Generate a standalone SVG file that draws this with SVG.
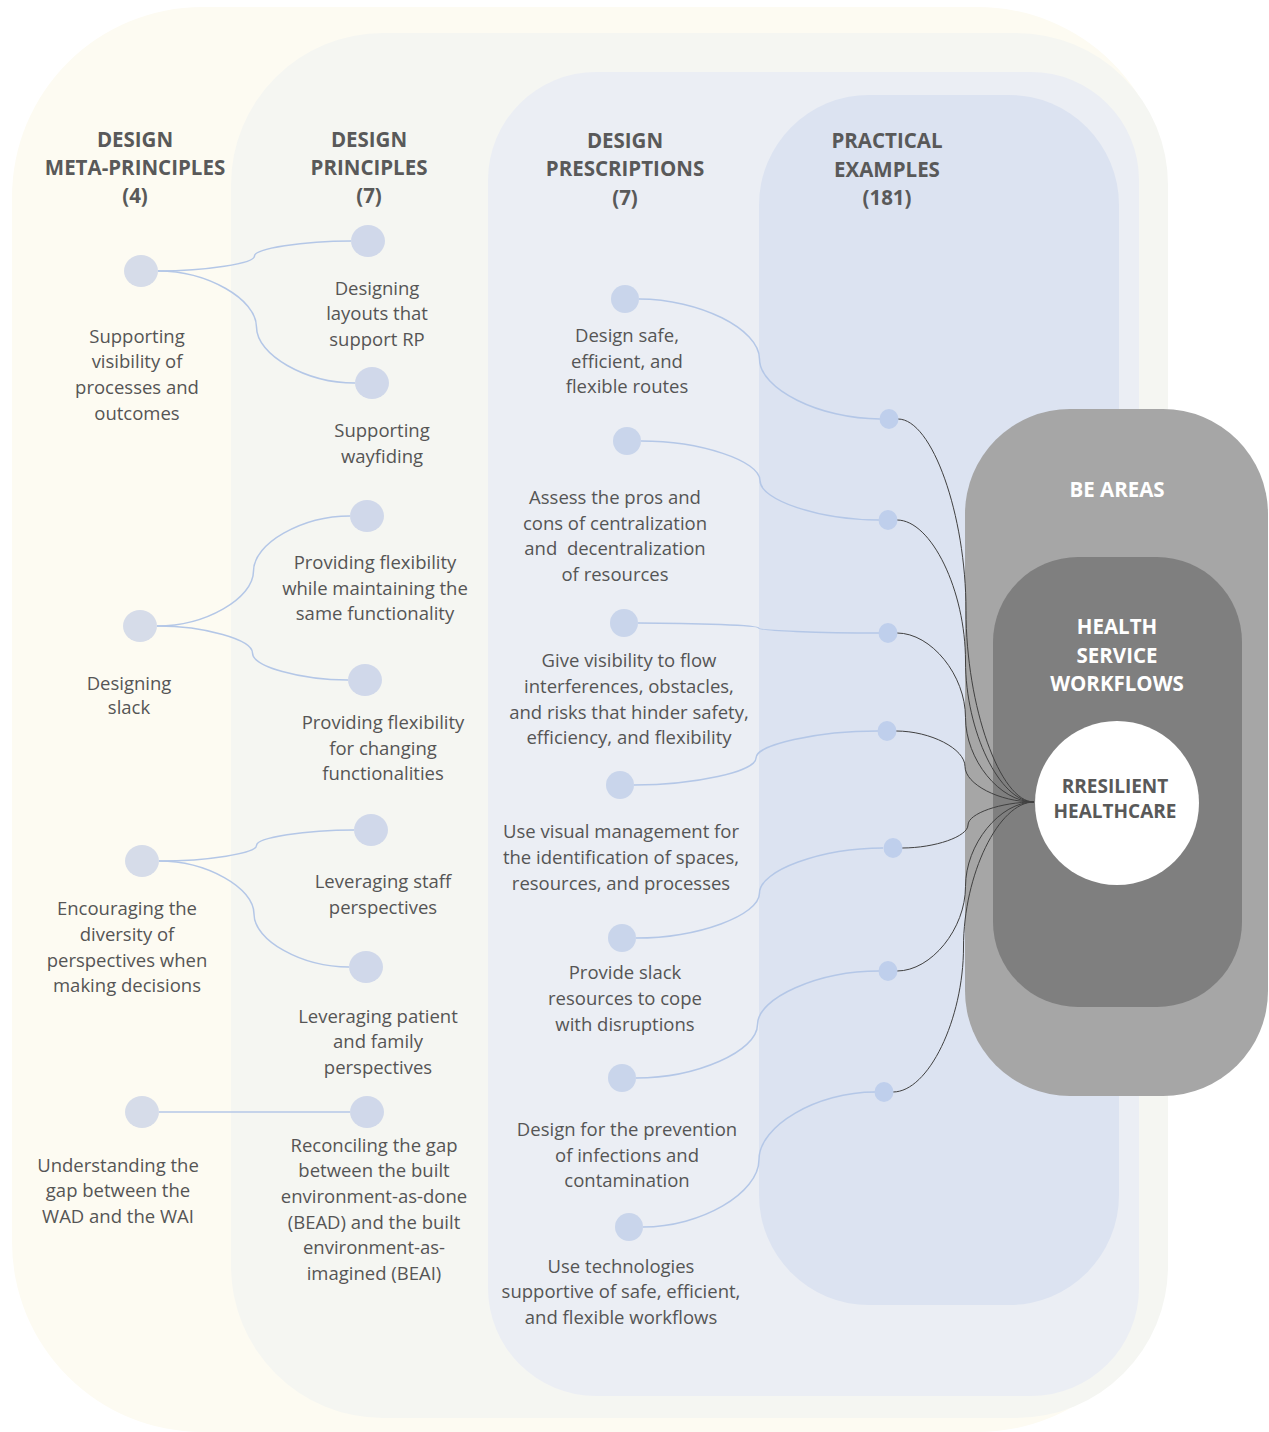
<svg xmlns="http://www.w3.org/2000/svg" width="1269" height="1432" viewBox="0 0 1269 1432">
<style>
.h{font-family:"Open Sans","Noto Sans",sans-serif;font-weight:bold;font-size:20.5px;fill:#595959;text-anchor:middle}
.t{font-family:"Open Sans","Noto Sans",sans-serif;font-size:18.5px;fill:#555555;text-anchor:middle}
.w{font-family:"Open Sans","Noto Sans",sans-serif;font-weight:bold;font-size:20.5px;fill:#ffffff;text-anchor:middle}
.c{font-family:"Open Sans","Noto Sans",sans-serif;font-weight:bold;font-size:19px;fill:#595959;text-anchor:middle}
.m{fill:#d6dce9}
.p{fill:#d0d8ea}
.r{fill:#c9d5eb}
.d{fill:#bfcfec}
.bl{fill:none;stroke:#b4c7e7;stroke-width:1.5}
.dk{fill:none;stroke:#404040;stroke-width:1}
</style>
<g id="background">
<rect x="12" y="7" width="1156" height="1425" rx="190" fill="#fdfbf2"/>
<rect x="231" y="33" width="937" height="1385" rx="152" fill="#f5f6f2"/>
<rect x="488" y="72" width="651" height="1324" rx="108" fill="#ebeef4"/>
<rect x="759" y="95" width="360" height="1210" rx="110" fill="#dce3f1"/>
</g>
<g id="headers">
<text class="h" x="135" y="147">DESIGN</text>
<text class="h" x="135" y="175">META-PRINCIPLES</text>
<text class="h" x="135" y="203">(4)</text>
<text class="h" x="369" y="147">DESIGN</text>
<text class="h" x="369" y="175">PRINCIPLES</text>
<text class="h" x="369" y="203">(7)</text>
<text class="h" x="625" y="148">DESIGN</text>
<text class="h" x="625" y="176">PRESCRIPTIONS</text>
<text class="h" x="625" y="205">(7)</text>
<text class="h" x="887" y="148">PRACTICAL</text>
<text class="h" x="887" y="177">EXAMPLES</text>
<text class="h" x="887" y="205">(181)</text>
</g>
<g id="be-areas">
<rect x="965" y="409" width="303" height="687" rx="105" fill="#a6a6a6"/>
<text class="w" x="1117" y="497">BE AREAS</text>
</g>
<g id="health-service-workflows">
<rect x="993" y="557" width="249" height="450" rx="85" fill="#7f7f7f"/>
<text class="w" x="1117" y="634">HEALTH</text>
<text class="w" x="1117" y="663">SERVICE</text>
<text class="w" x="1117" y="691">WORKFLOWS</text>
</g>
<g id="connectors">
<path class="bl" d="M158 271 C206.25 271 254.5 263.5 254.5 256 C254.5 248.5 302.75 241 351 241"/>
<path class="bl" d="M158 271 C207.25 271 256.5 299 256.5 327 C256.5 355 305.75 383 355 383"/>
<path class="bl" d="M157 626 C205.25 626 253.5 598.5 253.5 571 C253.5 543.5 301.75 516 350 516"/>
<path class="bl" d="M157 626 C204.75 626 252.5 639.5 252.5 653 C252.5 666.5 300.25 680 348 680"/>
<path class="bl" d="M159 861 C207.75 861 256.5 853.25 256.5 845.5 C256.5 837.75 305.25 830 354 830"/>
<path class="bl" d="M159 861 C206.5 861 254 887.5 254 914 C254 940.5 301.5 967 349 967"/>
<path class="bl" d="M159 1112 L350 1112"/>
<path class="bl" d="M639 299 C699.25 299 759.5 329 759.5 359 C759.5 389 819.75 419 880 419"/>
<path class="bl" d="M641 441 C700.5 441 760 460.75 760 480.5 C760 500.25 819.5 520 879 520"/>
<path class="bl" d="M638 623 C698.25 623 758.5 625.5 758.5 628 C758.5 630.5 818.75 633 879 633"/>
<path class="bl" d="M634 785 C695 785 756 771.5 756 758 C756 744.5 817 731 878 731"/>
<path class="bl" d="M636 938 C697.75 938 759.5 915.5 759.5 893 C759.5 870.5 821.25 848 883 848"/>
<path class="bl" d="M636 1078 C696.75 1078 757.5 1051.25 757.5 1024.5 C757.5 997.75 818.25 971 879 971"/>
<path class="bl" d="M643 1227 C701 1227 759 1193.25 759 1159.5 C759 1125.75 817 1092 875 1092"/>
<path class="dk" d="M898 419 C932 419 966 514.75 966 610.5 C966 706.25 1000 802 1034 802"/>
<path class="dk" d="M897 520 C931.25 520 965.5 590.5 965.5 661 C965.5 731.5 999.75 802 1034 802"/>
<path class="dk" d="M897 633 C931.25 633 965.5 675.25 965.5 717.5 C965.5 759.75 999.75 802 1034 802"/>
<path class="dk" d="M896 731 C930.5 731 965 748.75 965 766.5 C965 784.25 999.5 802 1034 802"/>
<path class="dk" d="M902 848 C935 848 968 836.5 968 825 C968 813.5 1001 802 1034 802"/>
<path class="dk" d="M897 971 C931.25 971 965.5 928.75 965.5 886.5 C965.5 844.25 999.75 802 1034 802"/>
<path class="dk" d="M893 1092 C928.25 1092 963.5 1019.5 963.5 947 C963.5 874.5 998.75 802 1034 802"/>
</g>
<g id="resilient-healthcare">
<circle cx="1117" cy="803" r="82" fill="#ffffff"/>
<text class="c" x="1115" y="793">RRESILIENT</text>
<text class="c" x="1115" y="818">HEALTHCARE</text>
</g>
<g id="meta-1">
<ellipse class="m" cx="141" cy="271" rx="17" ry="16"/>
<text class="t" x="137" y="343">Supporting</text>
<text class="t" x="137" y="368">visibility of</text>
<text class="t" x="137" y="394">processes and</text>
<text class="t" x="137" y="420">outcomes</text>
</g>
<g id="meta-2">
<ellipse class="m" cx="140" cy="626" rx="17" ry="16"/>
<text class="t" x="129" y="690">Designing</text>
<text class="t" x="129" y="714">slack</text>
</g>
<g id="meta-3">
<ellipse class="m" cx="142" cy="861" rx="17" ry="16"/>
<text class="t" x="127" y="915">Encouraging the</text>
<text class="t" x="127" y="941">diversity of</text>
<text class="t" x="127" y="967">perspectives when</text>
<text class="t" x="127" y="992">making decisions</text>
</g>
<g id="meta-4">
<ellipse class="m" cx="142" cy="1112" rx="17" ry="16"/>
<text class="t" x="118" y="1172">Understanding the</text>
<text class="t" x="118" y="1197">gap between the</text>
<text class="t" x="118" y="1223">WAD and the WAI</text>
</g>
<g id="principle-1">
<ellipse class="p" cx="368" cy="241" rx="17" ry="16"/>
<text class="t" x="377" y="295">Designing</text>
<text class="t" x="377" y="320">layouts that</text>
<text class="t" x="377" y="346">support RP</text>
</g>
<g id="principle-2">
<ellipse class="p" cx="372" cy="383" rx="17" ry="16"/>
<text class="t" x="382" y="437">Supporting</text>
<text class="t" x="382" y="463">wayfiding</text>
</g>
<g id="principle-3">
<ellipse class="p" cx="367" cy="516" rx="17" ry="16"/>
<text class="t" x="375" y="569">Providing flexibility</text>
<text class="t" x="375" y="595">while maintaining the</text>
<text class="t" x="375" y="620">same functionality</text>
</g>
<g id="principle-4">
<ellipse class="p" cx="365" cy="680" rx="17" ry="16"/>
<text class="t" x="383" y="729">Providing flexibility</text>
<text class="t" x="383" y="755">for changing</text>
<text class="t" x="383" y="780">functionalities</text>
</g>
<g id="principle-5">
<ellipse class="p" cx="371" cy="830" rx="17" ry="16"/>
<text class="t" x="383" y="888">Leveraging staff</text>
<text class="t" x="383" y="914">perspectives</text>
</g>
<g id="principle-6">
<ellipse class="p" cx="366" cy="967" rx="17" ry="16"/>
<text class="t" x="378" y="1023">Leveraging patient</text>
<text class="t" x="378" y="1048">and family</text>
<text class="t" x="378" y="1074">perspectives</text>
</g>
<g id="principle-7">
<ellipse class="p" cx="367" cy="1112" rx="17" ry="16"/>
<text class="t" x="374" y="1152">Reconciling the gap</text>
<text class="t" x="374" y="1177">between the built</text>
<text class="t" x="374" y="1203">environment-as-done</text>
<text class="t" x="374" y="1229">(BEAD) and the built</text>
<text class="t" x="374" y="1254">environment-as-</text>
<text class="t" x="374" y="1280">imagined (BEAI)</text>
</g>
<g id="prescription-1">
<circle class="r" cx="625" cy="299" r="14"/>
<text class="t" x="627" y="342">Design safe,</text>
<text class="t" x="627" y="368">efficient, and</text>
<text class="t" x="627" y="393">flexible routes</text>
</g>
<g id="prescription-2">
<circle class="r" cx="627" cy="441" r="14"/>
<text class="t" x="615" y="504">Assess the pros and</text>
<text class="t" x="615" y="530">cons of centralization</text>
<text class="t" x="615" y="555" xml:space="preserve">and  decentralization</text>
<text class="t" x="615" y="581">of resources</text>
</g>
<g id="prescription-3">
<circle class="r" cx="624" cy="623" r="14"/>
<text class="t" x="629" y="667">Give visibility to flow</text>
<text class="t" x="629" y="693">interferences, obstacles,</text>
<text class="t" x="629" y="719">and risks that hinder safety,</text>
<text class="t" x="629" y="744">efficiency, and flexibility</text>
</g>
<g id="prescription-4">
<circle class="r" cx="620" cy="785" r="14"/>
<text class="t" x="621" y="838">Use visual management for</text>
<text class="t" x="621" y="864">the identification of spaces,</text>
<text class="t" x="621" y="890">resources, and processes</text>
</g>
<g id="prescription-5">
<circle class="r" cx="622" cy="938" r="14"/>
<text class="t" x="625" y="979">Provide slack</text>
<text class="t" x="625" y="1005">resources to cope</text>
<text class="t" x="625" y="1031">with disruptions</text>
</g>
<g id="prescription-6">
<circle class="r" cx="622" cy="1078" r="14"/>
<text class="t" x="627" y="1136">Design for the prevention</text>
<text class="t" x="627" y="1162">of infections and</text>
<text class="t" x="627" y="1187">contamination</text>
</g>
<g id="prescription-7">
<circle class="r" cx="629" cy="1227" r="14"/>
<text class="t" x="621" y="1273">Use technologies</text>
<text class="t" x="621" y="1298">supportive of safe, efficient,</text>
<text class="t" x="621" y="1324">and flexible workflows</text>
</g>
<g id="example-1"><ellipse class="d" cx="889" cy="419" rx="9.5" ry="10"/></g>
<g id="example-2"><ellipse class="d" cx="888" cy="520" rx="9.5" ry="10"/></g>
<g id="example-3"><ellipse class="d" cx="888" cy="633" rx="9.5" ry="10"/></g>
<g id="example-4"><ellipse class="d" cx="887" cy="731" rx="9.5" ry="10"/></g>
<g id="example-5"><ellipse class="d" cx="893" cy="848" rx="9.5" ry="10"/></g>
<g id="example-6"><ellipse class="d" cx="888" cy="971" rx="9.5" ry="10"/></g>
<g id="example-7"><ellipse class="d" cx="884" cy="1092" rx="9.5" ry="10"/></g>
</svg>
